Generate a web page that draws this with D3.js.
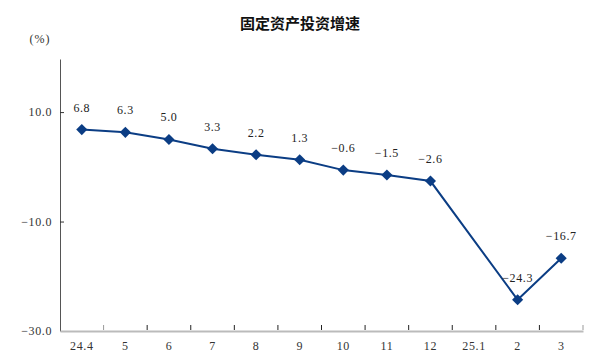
<!DOCTYPE html>
<html>
<head>
<meta charset="utf-8">
<script src="https://cdn.jsdelivr.net/npm/d3@7"></script>
<style>
  body { margin: 0; background: #fff; }
  text { font-family: "Liberation Serif", "Noto Sans CJK SC", serif; }
</style>
</head>
<body>
<svg id="chart"></svg>
<script>
// chart data
const months = ['24.4', '5', '6', '7', '8', '9', '10', '11', '12', '25.1', '2', '3'];
const growth = [6.8, 6.3, 5.0, 3.3, 2.2, 1.3, -0.6, -1.5, -2.6, null, -24.3, -16.7];
const yTicks = [10, -10, -30];

const width = 600, height = 362;
const margin = { top: 59, right: 17, bottom: 31, left: 60 };
const innerW = width - margin.left - margin.right;
const innerH = height - margin.top - margin.bottom;

const svg = d3.select('#chart')
	.attr('width', width)
	.attr('height', height);

// Title
svg.append('text')
	.attr('x', 300)
	.attr('y', 29)
	.attr('text-anchor', 'middle')
	.style('font-family', '"Noto Sans CJK SC", sans-serif')
	.style('font-weight', 'bold')
	.style('font-size', '15px')
	.attr('fill', '#111')
	.text('固定资产投资增速');

// Unit label
svg.append('text')
	.attr('x', 40)
	.attr('y', 43)
	.attr('text-anchor', 'middle')
	.style('font-size', '12px')
	.style('letter-spacing', '1px')
	.attr('fill', '#333')
	.text('(%)');

const chart = svg.append('g')
	.attr('transform', `translate(${margin.left},${margin.top})`);

const xScale = d3.scaleBand()
	.domain(months)
	.range([0, innerW]);

const yScale = d3.scaleLinear()
	.domain([-30, 19.7])
	.range([innerH, 0]);

// Y axis
const yAxisG = chart.append('g')
	.call(d3.axisLeft(yScale)
		.tickValues(yTicks)
		.tickSize(0)
		.tickPadding(8)
		.tickFormat(d3.format('.1f')));
yAxisG.select('.domain').attr('stroke', '#555');
yAxisG.selectAll('.tick text')
	.style('font-size', '12px')
	.style('letter-spacing', '0.6px')
	.attr('fill', '#333');
yAxisG.selectAll('.tick')
	.filter(d => d !== -30)
	.append('line')
	.attr('x1', 0)
	.attr('x2', 4)
	.attr('stroke', '#333');

// X axis
const xAxisG = chart.append('g')
	.attr('transform', `translate(0,${innerH})`)
	.call(d3.axisBottom(xScale).tickSize(0).tickPadding(10));
xAxisG.select('.domain').attr('stroke', '#bbb').attr('stroke-width', 2);
xAxisG.selectAll('.tick text')
	.style('font-size', '12px')
	.style('letter-spacing', '0.6px')
	.attr('fill', '#333');

// tick marks on band boundaries
chart.append('g')
	.selectAll('line')
	.data(months.slice(1).concat(['end']))
	.enter()
	.append('line')
	.attr('x1', d => d === 'end' ? innerW : xScale(d))
	.attr('x2', d => d === 'end' ? innerW : xScale(d))
	.attr('y1', innerH - 1)
	.attr('y2', innerH - 6)
	.attr('stroke', (d, i) => (i === 0 || d === 'end') ? '#999' : '#222');

const points = months.map((m, i) => ({ month: m, value: growth[i] }))
	.filter(d => d.value !== null);

const cx = d => xScale(d.month) + xScale.bandwidth() / 2;

// Line
chart.append('path')
	.datum(points)
	.attr('fill', 'none')
	.attr('stroke', '#0b3d84')
	.attr('stroke-width', 2)
	.attr('d', d3.line().x(cx).y(d => yScale(d.value)));

// Markers
chart.selectAll('.marker')
	.data(points)
	.enter()
	.append('path')
	.attr('class', 'marker')
	.attr('d', d3.symbol().type(d3.symbolSquare).size(62))
	.attr('transform', d => `translate(${cx(d)},${yScale(d.value)}) rotate(45)`)
	.attr('fill', '#0b3d84');

// Value labels
chart.selectAll('.value-label')
	.data(points)
	.enter()
	.append('text')
	.attr('class', 'value-label')
	.attr('x', cx)
	.attr('y', d => yScale(d.value) - 18)
	.attr('text-anchor', 'middle')
	.style('font-size', '12px')
	.style('letter-spacing', '0.6px')
	.attr('fill', '#222')
	.text(d => d3.format('.1f')(d.value));
</script>
</body>
</html>
